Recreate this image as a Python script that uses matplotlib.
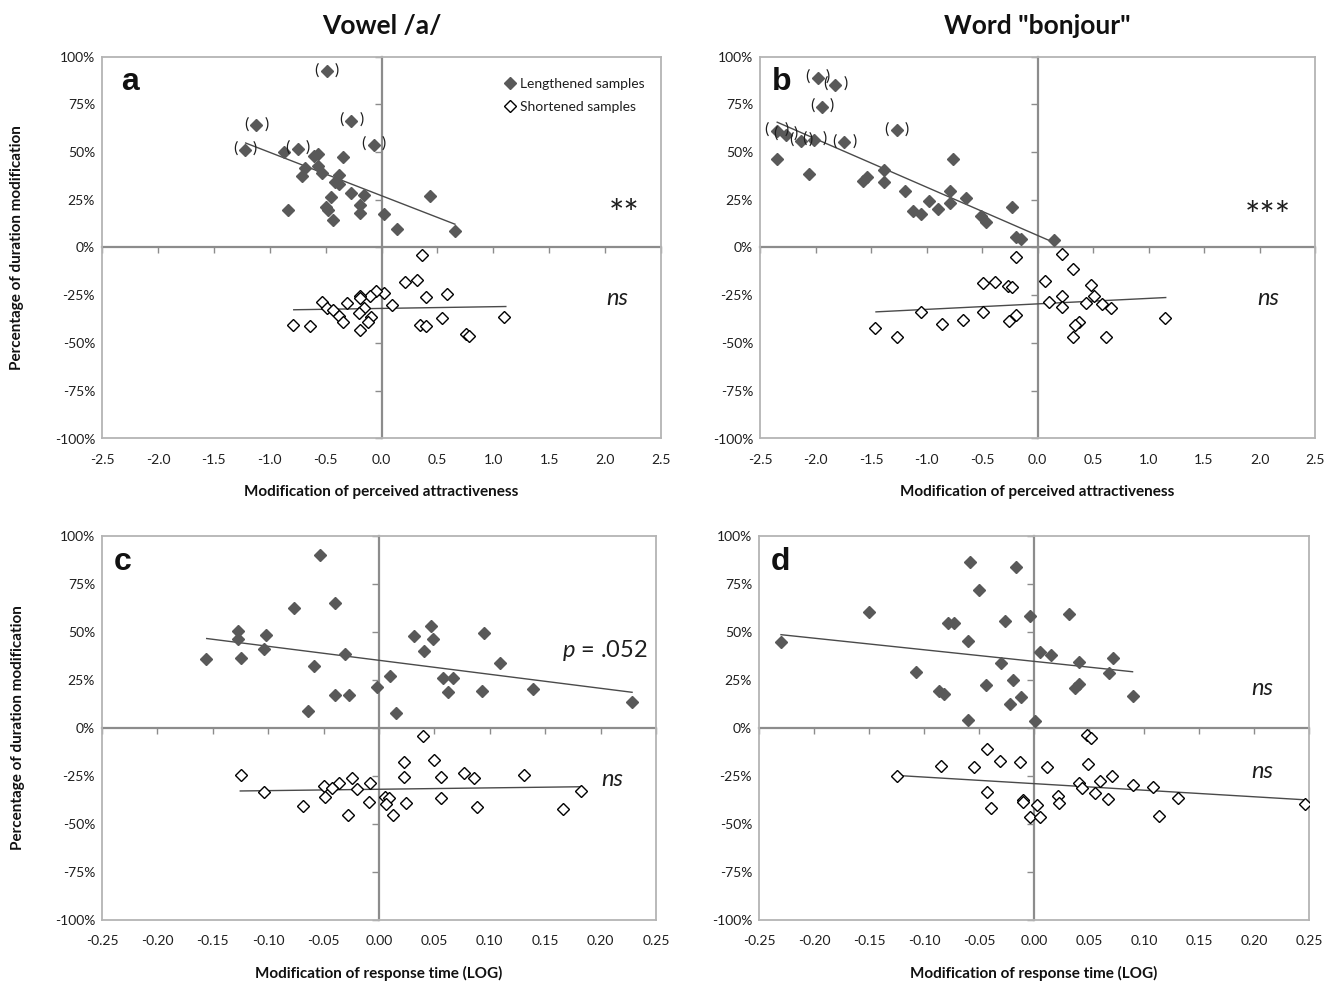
#!/usr/bin/env python3

import matplotlib
matplotlib.use("Agg")
import matplotlib.pyplot as plt
from matplotlib.ticker import FuncFormatter, NullFormatter

plt.rcParams['font.family'] = ['Lato', 'DejaVu Sans']
plt.rcParams['mathtext.fontset'] = 'custom'
plt.rcParams['mathtext.rm'] = 'Lato'
plt.rcParams['mathtext.it'] = 'Lato:italic'

#################################################
### Data
#################################################

# a : vowel /a/, attractiveness
a_len_x = [-0.49, -1.12, -1.22, -0.87, -0.75, -0.27, -0.07, -0.57, -0.60, -0.34,
           -0.68, -0.71, -0.57, -0.53, -0.38, -0.42, -0.38, -0.27, -0.16, 0.43,
           -0.45, -0.19, -0.50, -0.48, -0.84, -0.19, 0.02, -0.43, 0.14, 0.66]
a_len_y = [92.3, 64.0, 51.2, 50.2, 51.6, 66.4, 53.8, 49.0, 47.7, 47.6,
           41.6, 37.2, 42.5, 39.0, 37.8, 34.3, 33.2, 28.3, 27.6, 26.9,
           26.2, 22.0, 21.2, 19.6, 19.6, 18.0, 17.7, 14.2, 9.6, 8.7]
a_len_paren = [1, 1, 1, 0, 1, 1, 1, 0, 0, 0,
               0, 0, 0, 0, 0, 0, 0, 0, 0, 0,
               0, 0, 0, 0, 0, 0, 0, 0, 0, 0]
a_short_x = [0.36, 0.21, 0.32, 0.40, 0.59, 0.02, -0.05, -0.10, -0.19, -0.19,
             -0.31, 0.09, -0.16, -0.53, -0.49, -0.43, -0.20, -0.38, -0.09, -0.34,
             -0.12, -0.79, -0.64, -0.19, 0.34, 0.40, 0.54, 1.10, 0.76, 0.78]
a_short_y = [-4.1, -18.1, -17.0, -26.1, -24.6, -23.7, -22.8, -25.6, -25.5, -26.7,
             -28.9, -30.3, -31.6, -28.6, -31.6, -32.8, -34.2, -36.1, -36.6, -38.9,
             -39.1, -40.6, -41.2, -43.1, -40.6, -41.2, -36.8, -36.3, -45.5, -46.2]
a_len_fit = ([-1.215, 0.657], [54.7, 12.2])
a_short_fit = ([-0.785, 1.112], [-32.6, -30.9])

# b : word "bonjour", attractiveness
b_len_x = [-1.98, -1.82, -1.94, -2.35, -2.27, -2.13, -2.01, -1.74, -1.27, -2.35,
           -2.06, -1.57, -1.54, -1.38, -1.38, -1.19, -0.76, -0.79, -0.79, -0.64,
           -0.98, -0.90, -1.12, -1.05, -0.51, -0.46, -0.23, -0.19, -0.15, 0.15]
b_len_y = [88.8, 85.3, 73.6, 61.2, 59.1, 55.9, 56.5, 55.2, 61.4, 46.3,
           38.6, 35.0, 37.1, 40.6, 34.4, 29.7, 46.3, 29.7, 23.1, 25.7,
           24.1, 20.3, 18.9, 17.7, 16.6, 13.6, 21.3, 5.4, 4.5, 3.8]
b_len_paren = [1, 1, 1, 1, 1, 1, 1, 1, 1, 0,
               0, 0, 0, 0, 0, 0, 0, 0, 0, 0,
               0, 0, 0, 0, 0, 0, 0, 0, 0, 0]
b_short_x = [-0.19, 0.22, 0.32, 0.07, -0.49, -0.38, -0.27, -0.23, 0.48, 0.22,
             0.51, 0.10, 0.22, 0.44, 0.58, 0.66, -1.05, -0.49, 1.15, -0.19,
             -0.26, -0.67, -0.86, -1.46, -1.27, 0.37, 0.34, 0.32, 0.62]
b_short_y = [-5.2, -3.4, -11.5, -17.4, -18.8, -17.9, -20.2, -20.5, -19.5, -25.3,
             -25.3, -28.4, -31.0, -28.8, -29.8, -31.7, -34.0, -33.8, -36.8, -35.4,
             -38.4, -38.0, -39.8, -41.9, -46.6, -39.1, -40.8, -46.6, -46.6]
b_len_fit = ([-2.345, 0.148], [65.6, 2.6])
b_short_fit = ([-1.455, 1.155], [-33.7, -26.2])

# c : vowel /a/, response time
c_len_x = [-0.053, -0.077, -0.040, -0.127, -0.127, -0.102, -0.104, -0.156, -0.125, -0.031,
           -0.059, -0.040, -0.027, -0.064, -0.002, 0.010, 0.015, 0.032, 0.047, 0.049,
           0.041, 0.095, 0.109, 0.058, 0.067, 0.062, 0.093, 0.139, 0.228]
c_len_y = [90.2, 62.6, 65.2, 50.3, 46.4, 48.6, 41.4, 35.9, 36.6, 38.3,
           32.2, 17.2, 17.2, 9.0, 21.4, 26.9, 7.6, 47.9, 52.9, 46.4,
           40.3, 49.7, 33.6, 25.9, 25.9, 18.6, 19.3, 20.3, 13.8]
c_short_x = [0.040, 0.023, 0.050, -0.125, 0.077, 0.086, 0.131, 0.023, 0.056, -0.024,
             -0.008, -0.036, -0.050, -0.042, -0.020, -0.104, 0.182, -0.049, 0.005, 0.009,
             0.056, -0.009, 0.006, 0.024, -0.069, 0.088, 0.166, -0.028, 0.013]
c_short_y = [-4.2, -17.7, -16.6, -24.6, -23.2, -26.3, -24.6, -25.4, -25.3, -26.3,
             -28.4, -28.9, -30.1, -31.1, -31.8, -33.4, -32.8, -35.9, -35.8, -36.6,
             -36.3, -38.7, -39.7, -39.2, -40.8, -41.1, -42.3, -45.4, -45.1]
c_len_fit = ([-0.1555, 0.2284], [46.6, 18.6])
c_short_fit = ([-0.1252, 0.1819], [-32.8, -30.6])

# d : word "bonjour", response time
d_len_x = [-0.058, -0.016, -0.050, -0.150, -0.004, 0.032, -0.078, -0.073, -0.026, -0.230,
           -0.060, 0.005, 0.015, 0.072, -0.030, 0.041, -0.107, 0.068, -0.019, -0.044,
           0.041, 0.037, -0.086, -0.082, -0.012, 0.090, -0.022, -0.060, 0.001]
d_len_y = [86.7, 83.6, 71.9, 60.5, 58.1, 59.3, 54.5, 54.5, 55.5, 44.8,
           45.3, 39.5, 37.9, 36.6, 33.6, 34.3, 29.0, 28.4, 25.2, 22.6,
           23.1, 21.0, 19.3, 17.9, 16.2, 16.9, 12.6, 4.0, 3.8]
d_short_x = [0.048, 0.052, -0.043, -0.085, -0.055, -0.031, -0.013, 0.012, 0.049, -0.125,
             0.071, 0.060, 0.041, 0.044, 0.090, 0.108, -0.043, 0.055, 0.067, 0.022,
             0.023, -0.010, -0.010, 0.131, 0.246, 0.003, -0.039, 0.114, -0.004, 0.005]
d_short_y = [-3.4, -5.4, -11.1, -19.7, -20.4, -17.3, -17.7, -20.3, -18.5, -25.1,
             -25.1, -27.7, -28.9, -31.5, -29.9, -30.6, -33.2, -33.8, -36.9, -35.6,
             -39.1, -37.3, -38.4, -36.4, -39.5, -40.1, -41.8, -45.9, -46.6, -46.6]
d_len_fit = ([-0.230, 0.0896], [48.6, 29.3])
d_short_fit = ([-0.125, 0.2464], [-24.7, -37.4])

ticks_attr = [-2.5, -2.0, -1.5, -1.0, -0.5, 0.0, 0.5, 1.0, 1.5, 2.0, 2.5]
ticks_rt = [-0.25, -0.20, -0.15, -0.10, -0.05, 0.0, 0.05, 0.10, 0.15, 0.20, 0.25]
ticks_pct = [-100, -75, -50, -25, 0, 25, 50, 75, 100]

#################################################
### Style
#################################################

FILL = '#595959'
FRAME = '#b4b4b4'
AXIS = '#8c8c8c'
TEXT = '#1e1e1e'
FIT = '#4a4a4a'


def draw_panel(ax, len_x, len_y, short_x, short_y, len_fit, short_fit,
               xticks, xdigits, letter, letter_x, len_paren=None):
    """Un panneau : deux nuages de losanges, deux droites de tendance."""

    ax.set_xlim(xticks[0], xticks[-1])
    ax.set_ylim(-100, 100)

    # frame + labels on the edges
    for sp in ax.spines.values():
        sp.set_color(FRAME)
        sp.set_linewidth(1.3)
    ax.set_xticks(xticks)
    ax.set_yticks(ticks_pct)
    ax.xaxis.set_major_formatter(FuncFormatter(lambda v, p: f'{v:.{xdigits}f}'))
    ax.yaxis.set_major_formatter(FuncFormatter(lambda v, p: f'{v:.0f}%'))
    ax.tick_params(axis='x', length=0, pad=11, labelsize=10, labelcolor=TEXT)
    ax.tick_params(axis='y', length=0, pad=5, labelsize=10, labelcolor=TEXT)

    # axes crossing at zero, with small ticks
    secx = ax.secondary_xaxis(0.5)
    secx.set_xticks(xticks)
    secx.xaxis.set_major_formatter(NullFormatter())
    secx.tick_params(direction='in', length=4, width=1, color=AXIS)
    secy = ax.secondary_yaxis(0.5)
    secy.set_yticks(ticks_pct)
    secy.yaxis.set_major_formatter(NullFormatter())
    secy.tick_params(direction='in', length=5, width=1, color=AXIS)
    for sec in (secx, secy):
        for sp in sec.spines.values():
            sp.set_color(AXIS)
            sp.set_linewidth(1.6)

    # Plotting
    ax.plot(len_x, len_y, 'D', ms=6.6, color=FILL, mec=FILL,
            label='Lengthened samples', zorder=3)
    ax.plot(short_x, short_y, 'D', ms=6.2, mfc='white', mec='black', mew=1.0,
            label='Shortened samples', zorder=3)
    ax.plot(len_fit[0], len_fit[1], color=FIT, lw=1.0, zorder=2)
    ax.plot(short_fit[0], short_fit[1], color=FIT, lw=1.0, zorder=2)

    if len_paren is not None:
        for x, y, flag in zip(len_x, len_y, len_paren):
            if flag:
                ax.annotate('(', (x, y), xytext=(-10, 1), textcoords='offset pixels',
                            ha='center', va='center', fontsize=11.5, color=TEXT)
                ax.annotate(')', (x, y), xytext=(10, 1), textcoords='offset pixels',
                            ha='center', va='center', fontsize=11.5, color=TEXT)

    ax.text(letter_x, 0.911, letter, transform=ax.transAxes, ha='left',
            va='baseline', fontsize=23, fontweight='bold',
            family='Liberation Sans', color='#111111')


#################################################
### Figure
#################################################

fig = plt.figure(figsize=(13.36, 9.84), dpi=100)
W, H = 1336.0, 984.0


def add_box(x0, x1, y0, y1):
    return fig.add_axes([x0 / W, 1 - y1 / H, (x1 - x0) / W, (y1 - y0) / H])


ax_a = add_box(102, 661, 56.5, 438.5)
ax_b = add_box(760, 1315, 56.5, 438.5)
ax_c = add_box(102, 656, 536, 920)
ax_d = add_box(759, 1309, 536, 920)

draw_panel(ax_a, a_len_x, a_len_y, a_short_x, a_short_y, a_len_fit, a_short_fit,
           ticks_attr, 1, 'a', 0.034, a_len_paren)
draw_panel(ax_b, b_len_x, b_len_y, b_short_x, b_short_y, b_len_fit, b_short_fit,
           ticks_attr, 1, 'b', 0.022, b_len_paren)
draw_panel(ax_c, c_len_x, c_len_y, c_short_x, c_short_y, c_len_fit, c_short_fit,
           ticks_rt, 2, 'c', 0.021)
draw_panel(ax_d, d_len_x, d_len_y, d_short_x, d_short_y, d_len_fit, d_short_fit,
           ticks_rt, 2, 'd', 0.022)

# titles
ax_a.text(0.5, 1.08, 'Vowel /a/', transform=ax_a.transAxes, ha='center',
          va='center', fontsize=19, fontweight='bold', color='#111111')
ax_b.text(0.5, 1.08, 'Word "bonjour"', transform=ax_b.transAxes, ha='center',
          va='center', fontsize=19, fontweight='bold', color='#111111')

# axis labels
for ax, lab in ((ax_a, 'Modification of perceived attractiveness'),
                (ax_b, 'Modification of perceived attractiveness'),
                (ax_c, 'Modification of response time (LOG)'),
                (ax_d, 'Modification of response time (LOG)')):
    ax.set_xlabel(lab, fontsize=11, fontweight='bold', color='#111111',
                  va='center')
    ax.xaxis.set_label_coords(0.5, -0.139)
for ax in (ax_a, ax_c):
    ax.set_ylabel('Percentage of duration modification', fontsize=11,
                  fontweight='bold', color='#111111', va='center')
    ax.yaxis.set_label_coords(-0.152, 0.5)

# legend (panel a only)
ax_a.legend(loc='upper left', bbox_to_anchor=(0.72, 0.945), frameon=False,
            fontsize=10, handlelength=0.8, handletextpad=0.3, labelspacing=0.8,
            borderpad=0, borderaxespad=0, labelcolor=TEXT)

# significance marks
ax_a.text(0.934, 0.585, '**', transform=ax_a.transAxes, ha='center', va='center',
          fontsize=26, color=TEXT)
ax_b.text(0.915, 0.578, '***', transform=ax_b.transAxes, ha='center', va='center',
          fontsize=26, color=TEXT)
ax_a.text(0.921, 0.367, 'ns', transform=ax_a.transAxes, ha='center', va='center',
          fontsize=17, style='italic', color=TEXT)
ax_b.text(0.915, 0.367, 'ns', transform=ax_b.transAxes, ha='center', va='center',
          fontsize=17, style='italic', color=TEXT)
ax_c.text(0.908, 0.701, r'$p$ = .052', transform=ax_c.transAxes, ha='center',
          va='center', fontsize=17, color=TEXT)
ax_c.text(0.921, 0.367, 'ns', transform=ax_c.transAxes, ha='center', va='center',
          fontsize=17, style='italic', color=TEXT)
ax_d.text(0.915, 0.604, 'ns', transform=ax_d.transAxes, ha='center', va='center',
          fontsize=17, style='italic', color=TEXT)
ax_d.text(0.915, 0.386, 'ns', transform=ax_d.transAxes, ha='center', va='center',
          fontsize=17, style='italic', color=TEXT)

fig.savefig('out.png', dpi=100)
